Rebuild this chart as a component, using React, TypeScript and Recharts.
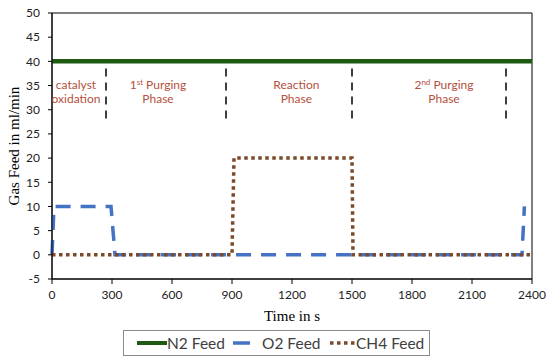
import {
  Line,
  LineChart,
  ReferenceArea,
  ReferenceDot,
  ReferenceLine,
  XAxis,
  YAxis,
} from "recharts";

const n2Time = [0, 2400];
const n2Flow = [40, 40];
const o2Time = [0, 10, 295, 315, 2350, 2362];
const o2Flow = [0, 10, 10, 0, 0, 10];
const ch4Time = [0, 900, 910, 1500, 1505, 2400];
const ch4Flow = [0, 0, 20, 20, 0, 0];

const xTicks = [0, 300, 600, 900, 1200, 1500, 1800, 2100, 2400];
const yTicks = [-5, 0, 5, 10, 15, 20, 25, 30, 35, 40, 45, 50];

const phaseBounds = [270, 870, 1500, 2270];
const phaseAt = [120, 530, 1222, 1960];
const phaseLine1 = [["catalyst"], ["1", "st", " Purging"], ["Reaction"], ["2", "nd", " Purging"]];
const phaseLine2 = ["oxidation", "Phase", "Phase", "Phase"];

const legendNames = ["N2 Feed", "O2 Feed", "CH4 Feed"];

const zip = (t: number[], v: number[]) => t.map((time, i) => ({ time, value: v[i] }));

const n2Data = zip(n2Time, n2Flow);
const o2Data = zip(o2Time, o2Flow);
const ch4Data = zip(ch4Time, ch4Flow);

const N2 = "#1e5a12";
const O2 = "#4472c4";
const CH4 = "#7a4a2a";
const LABEL = "#b4503c";
const SANS = "Lato, 'Open Sans', sans-serif";
const SERIF = "'Liberation Serif', 'DejaVu Serif', serif";

function PhaseLabel(props: any) {
  const { cx, cy, idx } = props;
  const l1 = phaseLine1[idx];
  return (
    <text x={cx} y={cy} textAnchor="middle" fill={LABEL} fontFamily={SANS} fontSize={12}>
      <tspan x={cx} dy={-3}>
        {l1[0]}
        {l1.length > 1 && (
          <>
            <tspan dy={-4} fontSize={8}>{l1[1]}</tspan>
            <tspan dy={4}>{l1[2]}</tspan>
          </>
        )}
      </tspan>
      <tspan x={cx} dy={14}>{phaseLine2[idx]}</tspan>
    </text>
  );
}

// legend drawn as a small svg so the icon spacing matches the picture
function LegendBox() {
  return (
    <svg style={{ position: "absolute", left: 123, top: 330 }} width={307} height={26}>
      <rect x={0.5} y={0.5} width={306} height={25} fill="#fff" stroke="#8a8a8a" />
      <line x1={14} y1={13} x2={44} y2={13} stroke={N2} strokeWidth={4} />
      <line x1={110} y1={13} x2={127} y2={13} stroke={O2} strokeWidth={3.5} />
      <line x1={207} y1={13} x2={233} y2={13} stroke={CH4} strokeWidth={3.5} strokeDasharray="3.5 3.5" />
      {legendNames.map((n, i) => (
        <text
          key={n}
          x={[44, 139, 233][i]}
          y={18.5}
          fontFamily={SANS}
          fontSize={15.5}
          fill="#404040"
        >
          {n}
        </text>
      ))}
    </svg>
  );
}

export default function App() {
  return (
    <div style={{ position: "absolute", left: 0, top: 0, width: 550, height: 361, background: "#fff" }}>
      <LineChart
        width={550}
        height={361}
        margin={{ top: 13, right: 18, bottom: 32, left: 0 }}
      >
        <XAxis
          type="number"
          dataKey="time"
          domain={[0, 2400]}
          ticks={xTicks}
          allowDuplicatedCategory={false}
          height={50}
          tickSize={5}
          tickMargin={6}
          stroke="#000"
          tick={{ fill: "#222", fontFamily: SANS, fontSize: 12 }}
          label={{
            value: "Time in s",
            position: "insideBottom",
            offset: 8,
            style: { fontFamily: SERIF, fontSize: 15, fill: "#000" },
          }}
        />
        <YAxis
          type="number"
          domain={[-5, 50]}
          ticks={yTicks}
          width={52}
          tickSize={4}
          tickMargin={8}
          stroke="#000"
          tick={{ fill: "#222", fontFamily: SANS, fontSize: 12 }}
          label={{
            value: "Gas Feed in ml/min",
            angle: -90,
            position: "insideLeft",
            offset: 14,
            style: { textAnchor: "middle", fontFamily: SERIF, fontSize: 15, fill: "#000" },
          }}
        />
        <ReferenceArea x1={0} x2={2400} y1={-5} y2={50} fill="none" stroke="#000" strokeWidth={1} />
        {phaseBounds.map((t) => (
          <ReferenceLine
            key={t}
            segment={[{ x: t, y: 28.2 }, { x: t, y: 38.6 }]}
            stroke="#000"
            strokeWidth={1.5}
            strokeDasharray="8 6"
          />
        ))}
        {phaseAt.map((t, i) => (
          <ReferenceDot key={t} x={t} y={33.6} r={0} shape={(p: any) => <PhaseLabel {...p} idx={i} />} />
        ))}
        <Line
          data={n2Data}
          dataKey="value"
          type="linear"
          stroke={N2}
          strokeWidth={4.5}
          dot={false}
          isAnimationActive={false}
        />
        <Line
          data={o2Data}
          dataKey="value"
          type="linear"
          stroke={O2}
          strokeWidth={3.5}
          strokeDasharray="15 10"
          dot={false}
          isAnimationActive={false}
        />
        <Line
          data={ch4Data}
          dataKey="value"
          type="linear"
          stroke={CH4}
          strokeWidth={3.5}
          strokeDasharray="3.5 3.5"
          dot={false}
          isAnimationActive={false}
        />
      </LineChart>
      <LegendBox />
    </div>
  );
}
